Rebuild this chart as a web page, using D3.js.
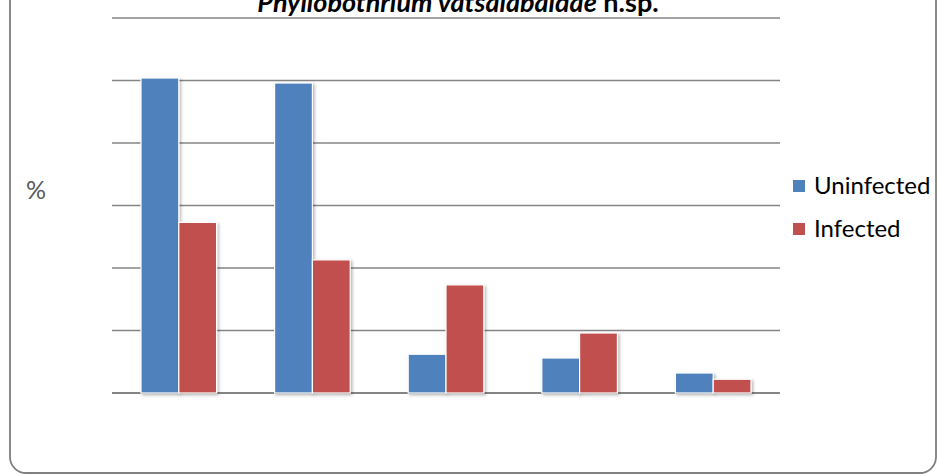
<!DOCTYPE html>
<html>
<head>
<meta charset="utf-8">
<script src="https://cdn.jsdelivr.net/npm/d3@7"></script>
<style>
  body { margin: 0; background: #fff; }
  svg { display: block; font-family: Lato, "Open Sans", sans-serif; }
</style>
</head>
<body>
<svg id="chart" width="938" height="475"></svg>
<script>
// data (no axis labels shown in the original)
const categories = ["1", "2", "3", "4", "5"];
const seriesNames = ["Uninfected", "Infected"];
const uninfected = [50.4, 49.6, 6.2, 5.6, 3.2];
const infected = [27.3, 21.3, 17.3, 9.6, 2.2];
const yTicks = [0, 10, 20, 30, 40, 50, 60];
const colors = ["#4f81bd", "#c0504d"];

const svg = d3.select("#chart");

// drop shadow like the office chart
const defs = svg.append("defs");
defs.append("filter")
    .attr("id", "shadow")
    .attr("x", "-20%").attr("y", "-20%")
    .attr("width", "150%").attr("height", "150%")
    .append("feDropShadow")
    .attr("dx", 1.5).attr("dy", 1.5)
    .attr("stdDeviation", 1.5)
    .attr("flood-color", "#000")
    .attr("flood-opacity", 0.3);

// outer frame (top runs off the picture)
svg.append("rect")
    .attr("x", 10).attr("y", -40)
    .attr("width", 926).attr("height", 513)
    .attr("rx", 16)
    .attr("fill", "none")
    .attr("stroke", "#7f7f7f")
    .attr("stroke-width", 1.8);

const x = d3.scaleBand()
    .domain(categories)
    .range([112, 780])
    .paddingInner(0.434)
    .paddingOuter(0.217);

const xInner = d3.scaleBand()
    .domain(seriesNames)
    .range([0, x.bandwidth()]);

const y = d3.scaleLinear()
    .domain([0, 60])
    .range([393, 18]);

// gridlines
svg.append("g")
    .selectAll("line")
    .data(yTicks)
    .enter()
    .append("line")
    .attr("x1", 112)
    .attr("x2", 780)
    .attr("y1", d => y(d))
    .attr("y2", d => y(d))
    .attr("stroke", "#858585")
    .attr("stroke-width", d => d === 0 ? 2.2 : 1.6);

// bars
const rows = categories.map((c, i) => ({ cat: c, values: [uninfected[i], infected[i]] }));

const groups = svg.append("g")
    .selectAll("g")
    .data(rows)
    .enter()
    .append("g")
    .attr("transform", d => `translate(${x(d.cat)},0)`);

groups.selectAll("rect")
    .data(d => d.values.map((v, j) => ({ name: seriesNames[j], value: v, j })))
    .enter()
    .append("rect")
    .attr("x", d => xInner(d.name))
    .attr("y", d => y(d.value))
    .attr("width", xInner.bandwidth())
    .attr("height", d => y(0) - y(d.value))
    .attr("fill", d => colors[d.j])
    .attr("stroke", "#fff")
    .attr("stroke-width", 1.2)
    .attr("filter", "url(#shadow)");

// title, cut off by the top edge as in the original
const title = svg.append("text")
    .attr("x", 458)
    .attr("y", 12)
    .attr("text-anchor", "middle")
    .attr("font-size", 27)
    .attr("font-weight", "bold")
    .attr("fill", "#000");
title.append("tspan").attr("font-style", "italic").text("Phyllobothrium vatsalabaldae");
title.append("tspan").text(" n.sp.");

// y label
svg.append("text")
    .attr("x", 36)
    .attr("y", 199)
    .attr("text-anchor", "middle")
    .attr("font-size", 25)
    .attr("fill", "#595959")
    .text("%");

// legend
const legend = svg.append("g")
    .selectAll("g")
    .data(seriesNames)
    .enter()
    .append("g")
    .attr("transform", (d, i) => `translate(793,${180 + i * 43})`);

legend.append("rect")
    .attr("width", 12)
    .attr("height", 12)
    .attr("fill", (d, i) => colors[i]);

legend.append("text")
    .attr("x", 21)
    .attr("y", 14)
    .attr("font-size", 24)
    .attr("fill", "#000")
    .text(d => d);
</script>
</body>
</html>
